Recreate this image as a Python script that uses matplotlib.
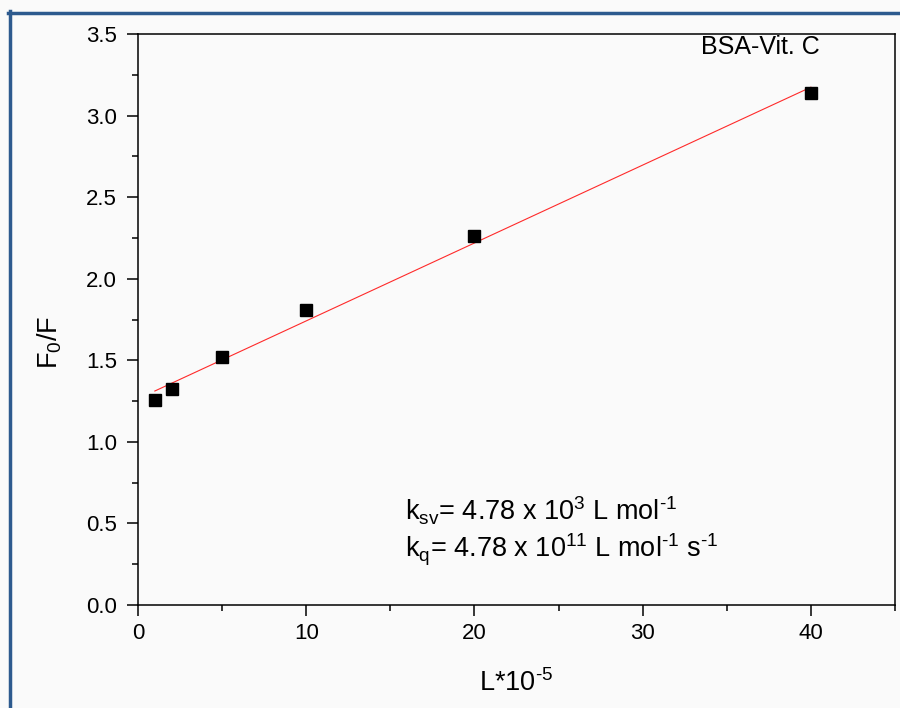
import numpy as np
import matplotlib
matplotlib.use("Agg")
import matplotlib.pyplot as plt
from matplotlib.lines import Line2D
from matplotlib.ticker import MultipleLocator

# DATA

conc = [1, 2, 5, 10, 20, 40]          # L*10^-5
f0_f = [1.257, 1.324, 1.522, 1.806, 2.262, 3.137]

x_ticks = [0, 10, 20, 30, 40]
y_ticks = [0.0, 0.5, 1.0, 1.5, 2.0, 2.5, 3.0, 3.5]

# STYLE

plt.rcParams['font.family'] = ['Liberation Sans', 'DejaVu Sans']
plt.rcParams['mathtext.fontset'] = 'custom'
plt.rcParams['mathtext.rm'] = 'Liberation Sans'
plt.rcParams['mathtext.it'] = 'Liberation Sans:italic'
plt.rcParams['mathtext.default'] = 'regular'

bg = '#fafafa'
hy = '\u2010'   # plain hyphen for the exponents

fig = plt.figure(figsize=(9, 7.08), dpi=100, facecolor=bg)
ax = fig.add_axes([138/900, 1-605/708, (895-138)/900, (605-34)/708])
ax.set_facecolor(bg)

# linear fit (Stern-Volmer)
slope, intercept = np.polyfit(conc, f0_f, 1)
xf = np.array([min(conc), max(conc)])
ax.plot(xf, slope*xf + intercept, color='#ff2a2a', linewidth=0.8, zorder=2)

ax.plot(conc, f0_f, linestyle='none', marker='s', markersize=8.5,
        color='black', zorder=3)

ax.set_xlim(0, 45)
ax.set_ylim(0, 3.5)
ax.set_xticks(x_ticks)
ax.set_yticks(y_ticks)
ax.set_yticklabels([f'{v:.1f}' for v in y_ticks])
ax.xaxis.set_minor_locator(MultipleLocator(5))
ax.yaxis.set_minor_locator(MultipleLocator(0.25))

ax.tick_params(which='major', direction='out', length=8, width=1.1,
               labelsize=16, pad=5, colors='black')
ax.tick_params(axis='y', which='major', pad=7)
ax.tick_params(which='minor', direction='out', length=4, width=1.1)
ax.tick_params(axis='y', which='both', right=False)
ax.tick_params(axis='x', which='both', top=False)
for s in ax.spines.values():
    s.set_linewidth(1.1)

ax.set_xlabel(r'L*10$^{' + hy + '5}$', fontsize=19.5, va='center')
ax.xaxis.set_label_coords(0.5, (605-683)/571)
ax.set_ylabel(r'F$_0$/F', fontsize=19.5, va='center')
ax.yaxis.set_label_coords((50-138)/757, (605-342)/571)

ax.text(40.5, 3.42, 'BSA-Vit. C', fontsize=18, ha='right', va='center')

ax.text(15.9, 0.52, r'k$_{sv}$= 4.78 x 10$^{3}$ L mol$^{' + hy + '1}$',
        fontsize=19.5, ha='left', va='baseline')
ax.text(15.9, 0.29, r'k$_{q}$= 4.78 x 10$^{11}$ L mol$^{' + hy + '1}$ s$^{' + hy + '1}$',
        fontsize=19.5, ha='left', va='baseline')

# blue frame of the slide
frame = '#2d5a8e'
fig.add_artist(Line2D([8/900, 1], [1-12.5/708, 1-12.5/708],
                      transform=fig.transFigure, color=frame, linewidth=2.5))
fig.add_artist(Line2D([9.5/900, 9.5/900], [0, 1-11/708],
                      transform=fig.transFigure, color=frame, linewidth=2.5))

fig.savefig('out.png', dpi=100, facecolor=bg)
